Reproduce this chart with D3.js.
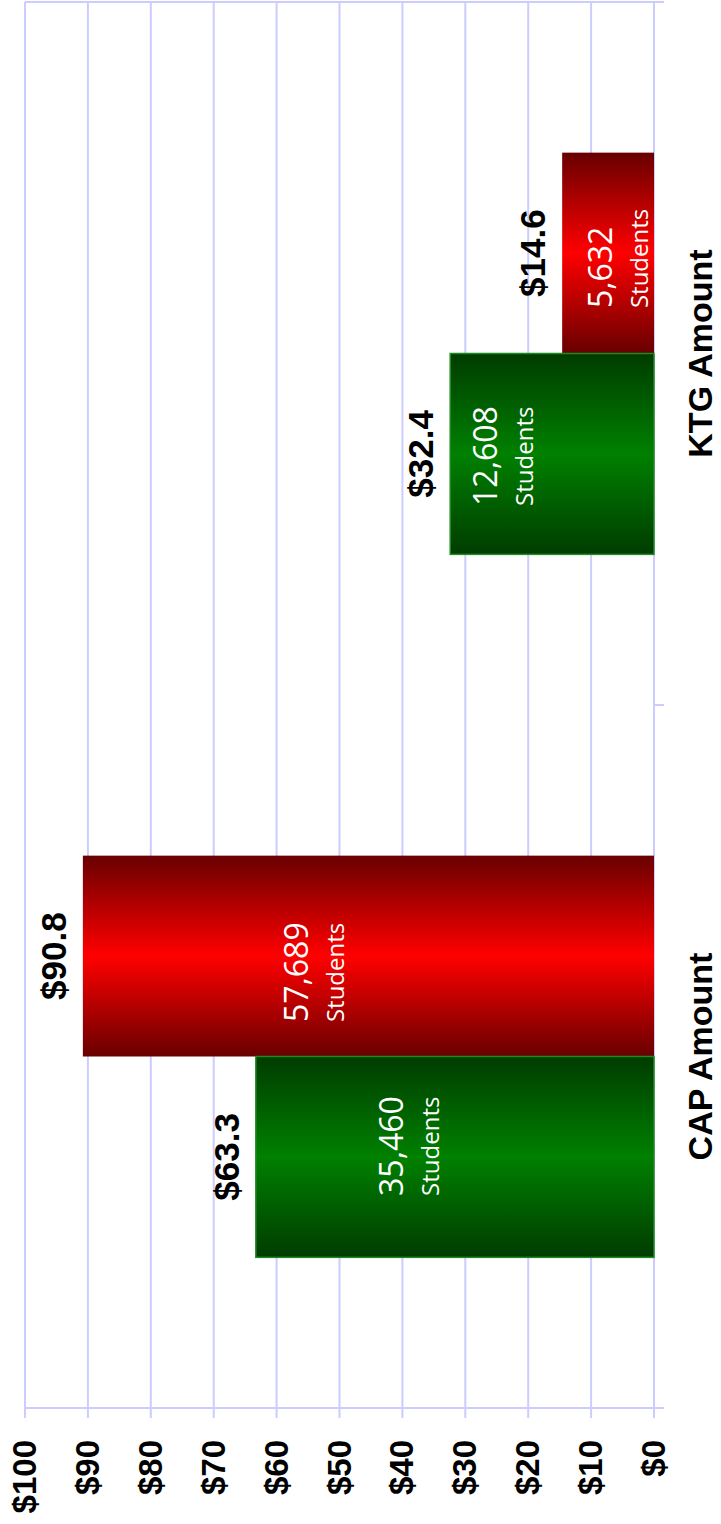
<!DOCTYPE html>
<html lang="en">
<head>
    <meta charset="UTF-8">
    <title>CAP and KTG Amount</title>
    <script src="https://cdnjs.cloudflare.com/ajax/libs/d3/7.8.5/d3.min.js"></script>
    <style>
        body { margin: 0; background: #ffffff; }
        .grid line { stroke: #ccccff; stroke-width: 2; }
        .tick-label { font-family: "Liberation Sans", Arial, sans-serif; font-weight: bold; font-size: 33px; fill: #000; }
        .cat-label { font-family: "Liberation Sans", Arial, sans-serif; font-weight: bold; font-size: 34px; fill: #000; }
        .value-label { font-family: "Liberation Sans", Arial, sans-serif; font-weight: bold; font-size: 35px; fill: #000; }
        .count-label { font-family: "Open Sans", sans-serif; fill: #fff; }
    </style>
</head>
<body>
<div id="chart"></div>
<script>
    // data
    const categories = ["CAP Amount", "KTG Amount"];
    const seriesNames = ["green", "red"];
    const amounts = [
        [63.3, 90.8],   // CAP Amount
        [32.4, 14.6]    // KTG Amount
    ];
    const students = [
        ["35,460", "57,689"],
        ["12,608", "5,632"]
    ];
    const valueTicks = [0, 10, 20, 30, 40, 50, 60, 70, 80, 90, 100];

    // the whole chart is drawn as a normal column chart, then turned -90deg
    const W = 1524, H = 721;
    const plot = {left: 116, right: 1522, top: 25, bottom: 654};

    const svg = d3.select("#chart").append("svg")
        .attr("width", H)
        .attr("height", W);

    const defs = svg.append("defs");
    const gradColors = {
        green: ["#003c00", "#008000"],
        red: ["#680000", "#ff0000"]
    };
    seriesNames.forEach(s => {
        const g = defs.append("linearGradient")
            .attr("id", "grad-" + s)
            .attr("x1", "0%").attr("x2", "100%")
            .attr("y1", "0%").attr("y2", "0%");
        g.append("stop").attr("offset", "0%").attr("stop-color", gradColors[s][0]);
        g.append("stop").attr("offset", "50%").attr("stop-color", gradColors[s][1]);
        g.append("stop").attr("offset", "100%").attr("stop-color", gradColors[s][0]);
    });

    const chart = svg.append("g")
        .attr("transform", `translate(0,${W}) rotate(-90)`);

    const x0 = d3.scaleBand()
        .domain(categories)
        .range([plot.left, plot.right])
        .padding(0);

    const x1 = d3.scaleBand()
        .domain(seriesNames)
        .range([0, x0.bandwidth()])
        .paddingInner(0)
        .paddingOuter(0.75);

    const y = d3.scaleLinear()
        .domain([0, 100])
        .range([plot.bottom, plot.top]);

    // gridlines (run 10px past the value axis as tick marks)
    const grid = chart.append("g").attr("class", "grid");
    grid.selectAll(".gl")
        .data(valueTicks)
        .enter()
        .append("line")
        .attr("x1", plot.left - 10)
        .attr("x2", plot.right)
        .attr("y1", d => y(d))
        .attr("y2", d => y(d));

    // plot border on the far side
    grid.append("line")
        .attr("x1", plot.right).attr("x2", plot.right)
        .attr("y1", y(100)).attr("y2", plot.bottom + 10);

    // value axis
    const yAxis = chart.append("g")
        .attr("transform", `translate(${plot.left},0)`)
        .call(d3.axisLeft(y).tickValues(valueTicks).tickSize(10).tickPadding(22).tickFormat(d => "$" + d));
    yAxis.select(".domain").remove();
    yAxis.selectAll("line").remove();
    yAxis.selectAll("text").attr("class", "tick-label").attr("fill", null);
    grid.append("line")
        .attr("x1", plot.left).attr("x2", plot.left)
        .attr("y1", y(100) - 1).attr("y2", plot.bottom + 10);

    // category axis
    grid.append("line")
        .attr("x1", plot.left).attr("x2", plot.right)
        .attr("y1", plot.bottom).attr("y2", plot.bottom);
    const bounds = categories.map(c => x0(c)).concat([x0(categories[categories.length - 1]) + x0.bandwidth()]);
    grid.selectAll(".ct")
        .data(bounds)
        .enter()
        .append("line")
        .attr("x1", d => d).attr("x2", d => d)
        .attr("y1", plot.bottom).attr("y2", plot.bottom + 10);

    chart.selectAll(".cat-label")
        .data(categories)
        .enter()
        .append("text")
        .attr("class", "cat-label")
        .attr("text-anchor", "middle")
        .attr("x", d => x0(d) + x0.bandwidth() / 2)
        .attr("y", 712)
        .text(d => d);

    // bars
    const bars = [];
    categories.forEach((c, i) => {
        seriesNames.forEach((s, j) => {
            bars.push({cat: c, series: s, value: amounts[i][j], count: students[i][j], i: i, j: j});
        });
    });
    // red drawn first so the green outline stays on top
    const order = bars.slice().sort((a, b) => (a.series === "red" ? -1 : 1) - (b.series === "red" ? -1 : 1));

    chart.selectAll(".bar")
        .data(order)
        .enter()
        .append("rect")
        .attr("class", "bar")
        .attr("x", d => x0(d.cat) + x1(d.series))
        .attr("width", x1.bandwidth())
        .attr("y", d => y(d.value))
        .attr("height", d => y(0) - y(d.value))
        .attr("fill", d => `url(#grad-${d.series})`)
        .attr("stroke", d => d.series === "green" ? "#1f8a1f" : "none")
        .attr("stroke-width", 1.5);

    // amount labels above the bars
    chart.selectAll(".value-label")
        .data(bars)
        .enter()
        .append("text")
        .attr("class", "value-label")
        .attr("text-anchor", "middle")
        .attr("x", d => x0(d.cat) + x1(d.series) + x1.bandwidth() / 2)
        .attr("y", d => y(d.value) - 17)
        .text(d => "$" + d.value.toFixed(1));

    // student counts inside the bars (hand placed in the original)
    const countStart = [[-39, -66], [-52, -55]];
    const countDrop = [[147, 225], [47, 50]];
    const counts = chart.selectAll(".count")
        .data(bars)
        .enter()
        .append("g")
        .attr("class", "count")
        .attr("transform", d => `translate(${x0(d.cat) + x1(d.series) + x1.bandwidth() / 2 + countStart[d.i][d.j]},${y(d.value) + countDrop[d.i][d.j]})`);

    counts.append("text")
        .attr("class", "count-label")
        .attr("font-size", 32)
        .text(d => d.count);

    counts.append("text")
        .attr("class", "count-label")
        .attr("font-size", 24)
        .attr("y", 36)
        .text("Students");
</script>
</body>
</html>
